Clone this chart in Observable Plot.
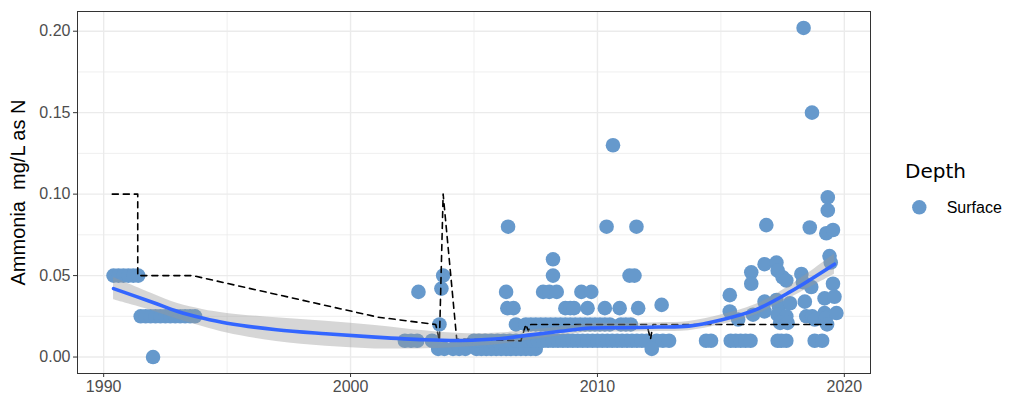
<!DOCTYPE html>
<html><head><meta charset="utf-8">
<script src="https://cdn.jsdelivr.net/npm/d3@7"></script>
<script src="https://cdn.jsdelivr.net/npm/@observablehq/plot@0.6"></script>
<style>
body{margin:0;background:#fff;}
#wrap{position:relative;width:1024px;height:410px;}
#legend{position:absolute;left:880px;top:140px;}
</style></head>
<body><div id="wrap"><div id="chart"></div>
<svg id="legend" width="144" height="100" xmlns="http://www.w3.org/2000/svg"></svg>
</div>
<script>
// ---- data ----
const pointYear = [
 1990.4,1990.6,1990.8,1991.0,1991.2,1991.4,
 1991.5,1991.7,1991.9,1992.1,1992.3,1992.5,1992.7,1992.9,1993.1,1993.3,1993.5,1993.7,
 1992.0,
 2002.2,2002.45,2002.7,2002.75,2003.3,2003.55,2003.6,2003.68,2003.75,2003.8,2004.15,2004.4,2004.65,
 2005.1,2005.3,2005.5,2005.7,2005.9,2006.1,2006.3,2006.5,2006.7,2006.9,2007.1,2007.3,2007.5,
 2005.0,2005.2,2005.45,2005.7,2005.95,2006.2,2006.45,2006.7,2006.95,
 2006.38,2006.3,2006.35,2006.6,2006.7,2007.1,
 2007.2,2007.4,2007.6,2007.8,2008.0,2008.2,2008.4,2008.6,2008.8,2009.0,2009.2,2009.4,2009.6,2009.8,
 2010.0,2010.2,2010.4,2010.6,2010.8,2011.0,2011.2,2011.4,2011.6,2011.8,2012.0,2012.4,2012.65,2012.9,
 2012.2,
 2007.3,2007.5,2007.7,2007.9,2008.1,2008.3,2008.5,2008.7,2008.9,2009.1,2009.3,2009.5,2009.7,2009.9,
 2010.1,2010.3,2010.5,2010.95,2011.15,2011.35,
 2008.7,2008.9,2009.05,2009.6,2010.3,2010.9,2011.65,2012.6,
 2007.8,2008.05,2008.35,2009.35,2009.75,
 2008.2,2011.3,2011.5,2008.2,2010.37,2011.58,2010.63,
 2014.4,2014.6,2015.4,2015.6,2015.8,2016.0,2016.2,2017.3,2017.45,2017.65,2018.8,2019.1,
 2015.36,2015.36,2015.7,2016.23,2016.23,2016.3,2016.77,2016.84,2016.77,2016.77,
 2017.25,2017.3,2017.5,2017.65,2017.25,2017.35,2017.3,2017.65,2017.8,2017.4,2017.7,
 2018.26,2018.32,2018.35,2018.69,2018.6,2018.66,2018.4,2018.46,2018.7,2018.8,
 2019.2,2019.2,2019.25,2019.27,2019.33,2019.33,2019.54,2019.4,2019.45,2019.54,2019.6,2019.68,2019.3
];
const pointValue = [
 0.05,0.05,0.05,0.05,0.05,0.05,
 0.025,0.025,0.025,0.025,0.025,0.025,0.025,0.025,0.025,0.025,0.025,0.025,
 0,
 0.01,0.01,0.01,0.04,0.01,0.005,0.02,0.042,0.05,0.005,0.005,0.005,0.005,
 0.005,0.005,0.005,0.005,0.005,0.005,0.005,0.005,0.005,0.005,0.005,0.005,0.005,
 0.01,0.01,0.01,0.01,0.01,0.01,0.01,0.01,0.01,
 0.08,0.04,0.03,0.03,0.02,0.02,
 0.01,0.01,0.01,0.01,0.01,0.01,0.01,0.01,0.01,0.01,0.01,0.01,0.01,0.01,
 0.01,0.01,0.01,0.01,0.01,0.01,0.01,0.01,0.01,0.01,0.01,0.01,0.01,0.01,
 0.005,
 0.02,0.02,0.02,0.02,0.02,0.02,0.02,0.02,0.02,0.02,0.02,0.02,0.02,0.02,
 0.02,0.02,0.02,0.02,0.02,0.02,
 0.03,0.03,0.03,0.03,0.03,0.03,0.03,0.032,
 0.04,0.04,0.04,0.04,0.04,
 0.05,0.05,0.05,0.06,0.08,0.08,0.13,
 0.01,0.01,0.01,0.01,0.01,0.01,0.01,0.01,0.01,0.01,0.01,0.01,
 0.038,0.028,0.023,0.052,0.045,0.026,0.057,0.081,0.034,0.028,
 0.058,0.053,0.049,0.047,0.035,0.031,0.026,0.025,0.033,0.021,0.021,
 0.051,0.046,0.202,0.150,0.0795,0.043,0.034,0.025,0.025,0.023,
 0.036,0.027,0.024,0.076,0.098,0.090,0.078,0.062,0.058,0.045,0.037,0.027,0.02
];

const smoothYear = [1990.4,1992,1993,1994,1995,1997,1999,2001,2003,2004.5,2006,2007.3,2008.5,2009.7,2011,2012.5,2013.7,2015,2016.4,2017.8,2019.6];
const smoothFit  = [0.042,0.0335,0.028,0.024,0.0208,0.0168,0.0143,0.0122,0.0106,0.0102,0.0112,0.0136,0.0158,0.0178,0.018,0.0184,0.019,0.0228,0.029,0.040,0.057];
const smoothLo   = [0.0352,0.0283,0.0232,0.0188,0.0148,0.0095,0.0066,0.005,0.0051,0.006,0.0077,0.0106,0.0131,0.0152,0.0154,0.0157,0.0162,0.0198,0.0258,0.0362,0.0508];
const smoothHi   = [0.0488,0.0387,0.0328,0.0292,0.0268,0.0241,0.022,0.0194,0.0161,0.0144,0.0147,0.0166,0.0185,0.0204,0.0206,0.0211,0.0218,0.0258,0.0322,0.0438,0.0632];

const dashYear  = [1990.35,1991.38,1991.38,1993.6,2001.1,2003.45,2003.6,2003.75,2004.3,2006.9,2007.1,2007.2,2007.3,2012.0,2012.15,2012.25,2019.55];
const dashValue = [0.10,0.10,0.05,0.05,0.0245,0.02,0.01,0.10,0.011,0.01,0.02,0.016,0.02,0.02,0.011,0.02,0.02];

const xTicks = [1990,2000,2010,2020];
const xMinor = [1995,2005,2015];
const yTicks = [0,0.05,0.10,0.15,0.20];
const yMinor = [0.025,0.075,0.125,0.175];
const yLabel = "Ammonia\u00a0 mg/L as N";
const legendTitle = "Depth";
const legendItems = ["Surface"];
const pointColor = "#6699cc";

// ---- build ----
const points = pointYear.map((x,i)=>({x, y: pointValue[i]}));
const smooth = smoothYear.map((x,i)=>({x, y: smoothFit[i], lo: smoothLo[i], hi: smoothHi[i]}));
const dash = dashYear.map((x,i)=>({x, y: dashValue[i]}));

const font = "'Liberation Sans', Arial, Helvetica, sans-serif";
const chart = Plot.plot({
  width: 1024, height: 410,
  marginLeft: 77, marginRight: 154, marginTop: 11, marginBottom: 37,
  x: {domain: [1988.94, 2021.06]},
  y: {domain: [-0.0101, 0.2121]},
  style: {fontFamily: font, fontSize: "16px", background: "white", overflow: "visible"},
  marks: [
    Plot.gridX(xMinor, {stroke: "#ebebeb", strokeOpacity: 1, strokeWidth: 0.8}),
    Plot.gridY(yMinor, {stroke: "#ebebeb", strokeOpacity: 1, strokeWidth: 0.8}),
    Plot.gridX(xTicks, {stroke: "#ebebeb", strokeOpacity: 1, strokeWidth: 1.4}),
    Plot.gridY(yTicks, {stroke: "#ebebeb", strokeOpacity: 1, strokeWidth: 1.4}),
    Plot.dot(points, {x: "x", y: "y", r: 7.3, fill: pointColor}),
    Plot.line(dash, {x: "x", y: "y", stroke: "black", strokeWidth: 1.6, strokeDasharray: "6,5"}),
    Plot.areaY(smooth, {x: "x", y1: "lo", y2: "hi", fill: "#999999", fillOpacity: 0.4, curve: "catmull-rom"}),
    Plot.line(smooth, {x: "x", y: "y", stroke: "#3366ff", strokeWidth: 3.6, curve: "catmull-rom"}),
    Plot.frame({stroke: "#333333", strokeWidth: 1}),
    Plot.axisX(xTicks, {tickFormat: d => String(d), tickSize: 4, tickPadding: 3, stroke: "#333333", fill: "#4d4d4d", fontSize: 16, label: null}),
    Plot.axisY(yTicks, {tickFormat: d => d.toFixed(2), tickSize: 4, tickPadding: 3, stroke: "#333333", fill: "#4d4d4d", fontSize: 16, label: null}),
    Plot.text([yLabel], {text: d => d, frameAnchor: "left", textAnchor: "middle", dx: -59, rotate: -90, fontSize: 20, fill: "black"})
  ]
});
document.getElementById("chart").appendChild(chart);

// legend
const lg = d3.select("#legend");
lg.append("text").attr("x", 25).attr("y", 38.3).attr("font-family", "'DejaVu Sans', sans-serif")
  .attr("font-size", 20).attr("fill", "black").text(legendTitle);
legendItems.forEach((name, i) => {
  lg.append("circle").attr("cx", 39.3).attr("cy", 67.3 + i * 30).attr("r", 7.2).attr("fill", pointColor);
  lg.append("text").attr("x", 66.7).attr("y", 73.3 + i * 30).attr("font-family", font)
    .attr("font-size", 16).attr("fill", "black").text(name);
});
</script>
</body></html>
